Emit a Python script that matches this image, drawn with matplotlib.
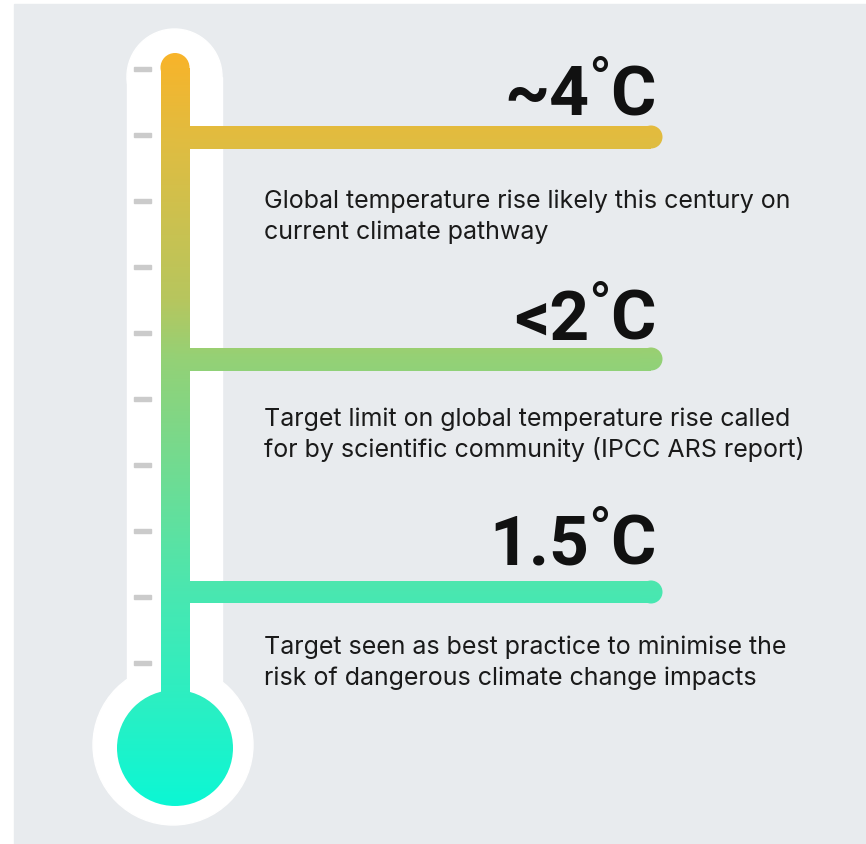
import matplotlib.pyplot as plt
import numpy as np
from matplotlib.patches import Rectangle, Circle
from matplotlib.colors import LinearSegmentedColormap

# chart content
levels = ["~4", "<2", "1.5"]
descriptions = [
    ["Global temperature rise likely this century on", "current climate pathway"],
    ["Target limit on global temperature rise called", "for by scientific community (IPCC ARS report)"],
    ["Target seen as best practice to minimise the", "risk of dangerous climate change impacts"],
]
unit = "C"
n_ticks = 10

# layout (pixel coordinates, y grows downward)
W, H = 866, 845
bar_y = [138, 360, 593]
label_base = [115, 340, 565]
desc_base = [208, 426, 654]
bar_end = 651
bar_r = 11.5

# gradient stops along the tube
grad_y = [54, 138, 300, 360, 593, 700, 807]
grad_c = ["#f8b42a", "#e1bc40", "#b7c65e", "#94d176", "#4ae7b0", "#2cefc2", "#0cf7d4"]

fig = plt.figure(figsize=(W / 100, H / 100), dpi=100, facecolor="white")
ax = fig.add_axes([0, 0, 1, 1])
ax.set_xlim(0, W)
ax.set_ylim(H, 0)
ax.axis("off")

ax.add_patch(Rectangle((14, 5), W - 14, H - 5, color="#e8ebee", zorder=0))

# white thermometer body
ax.add_patch(Rectangle((127, 77.5), 95, 670, color="white", zorder=1))
ax.add_patch(Circle((174.5, 77.5), 47.5, color="white", zorder=1))
ax.add_patch(Circle((173, 746), 80, color="white", zorder=1))

for i in range(n_ticks):
    ax.add_patch(Rectangle((134, 68 + 66 * i), 17, 4, color="#cbcbcb", zorder=2))

# coloured fill shapes
shapes = [
    Rectangle((160.5, 68.5), 29, 680),
    Circle((175, 68.5), 14.5),
    Circle((175, 749), 58),
]
for y in bar_y:
    shapes.append(Rectangle((175, y - bar_r), bar_end - 175, 2 * bar_r))
    shapes.append(Circle((bar_end, y), bar_r))

ys = np.array(grad_y, dtype=float)
pos = (ys - ys[0]) / (ys[-1] - ys[0])
cmap = LinearSegmentedColormap.from_list("thermo", list(zip(pos, grad_c)))
grad = np.linspace(0, 1, 512).reshape(-1, 1)

for s in shapes:
    s.set_facecolor("none")
    s.set_edgecolor("none")
    ax.add_patch(s)
    im = ax.imshow(grad, cmap=cmap, aspect="auto", origin="upper",
                   extent=(100, 700, ys[-1], ys[0]), zorder=3, interpolation="bilinear")
    im.set_clip_path(s)
ax.set_xlim(0, W)
ax.set_ylim(H, 0)

# labels
for lab, b in zip(levels, label_base):
    ax.text(656, b, unit, ha="right", va="baseline", fontsize=50,
            fontfamily="Roboto", fontweight="bold", color="#111111", zorder=5)
    ax.text(600, b - 14, "°", ha="center", va="baseline", fontsize=44,
            fontfamily="Roboto", fontweight="normal", color="#111111", zorder=5)
    ax.text(589, b, lab, ha="right", va="baseline", fontsize=50,
            fontfamily="Roboto", fontweight="bold", color="#111111", zorder=5)

for lines, b in zip(descriptions, desc_base):
    for j, line in enumerate(lines):
        ax.text(264, b + 31 * j, line, ha="left", va="baseline", fontsize=18,
                fontfamily="Inter", color="#1a1a1a", zorder=5)

fig.savefig("out.png", dpi=100, facecolor="white")
